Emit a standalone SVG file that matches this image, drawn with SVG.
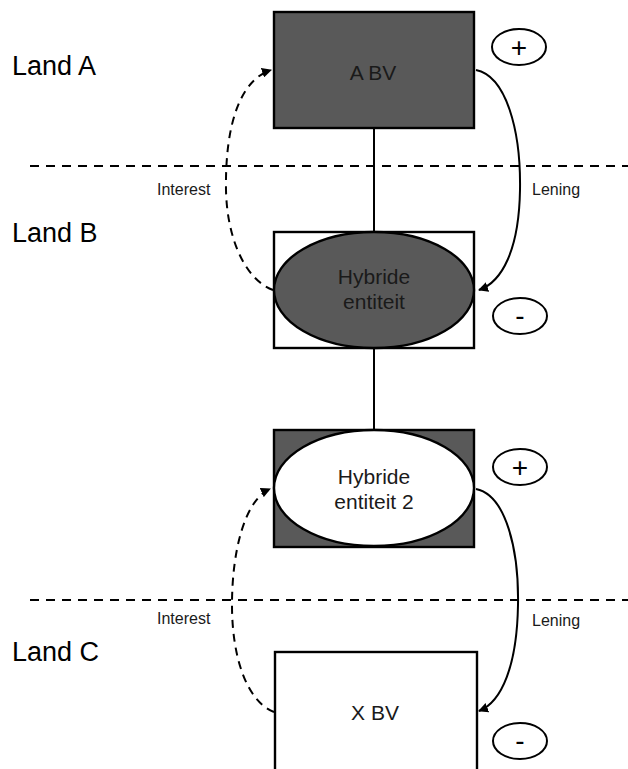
<svg xmlns="http://www.w3.org/2000/svg" width="628" height="769" viewBox="0 0 628 769">
  <style>
    .land { font-family: "Liberation Sans", Arial, sans-serif; font-size: 27px; fill: #000; }
    .node-text { font-family: "Liberation Sans", Arial, sans-serif; font-size: 21px; fill: #1a1a1a; text-anchor: middle; }
    .flow-label { font-family: "Liberation Sans", Arial, sans-serif; font-size: 16px; fill: #1a1a1a; }
    .sign-text { font-family: "Liberation Sans", Arial, sans-serif; font-size: 28px; fill: #000; text-anchor: middle; }
    .sign-minus { stroke: #000; stroke-width: 3; }
    .box { stroke: #000; stroke-width: 2.4; }
    .dark { fill: #595959; }
    .light { fill: #fff; }
    .border { stroke: #000; stroke-width: 1.8; stroke-dasharray: 9 7; fill: none; }
    .link { stroke: #000; stroke-width: 2; fill: none; }
    .flow { stroke: #000; stroke-width: 2; fill: none; }
    .dashed { stroke-dasharray: 8 6; }
    .sign { fill: #fff; stroke: #000; stroke-width: 2; }
  </style>
  <defs>
    <marker id="arrow" viewBox="0 0 10 10" refX="9" refY="5" markerWidth="5" markerHeight="5" orient="auto" markerUnits="strokeWidth">
      <path d="M0,0 L10,5 L0,10 z" fill="#000"/>
    </marker>
  </defs>

  <rect width="628" height="769" fill="#fff"/>

  <!-- country borders -->
  <g id="borders">
    <line class="border" x1="30" y1="166" x2="628" y2="166"/>
    <line class="border" x1="30" y1="600" x2="628" y2="600"/>
  </g>

  <!-- country labels -->
  <g id="land-labels">
    <text class="land" x="12" y="75">Land A</text>
    <text class="land" x="12" y="242">Land B</text>
    <text class="land" x="12" y="661">Land C</text>
  </g>

  <!-- connectors -->
  <g id="connectors">
    <line class="link" x1="374" y1="128" x2="374" y2="232"/>
    <line class="link" x1="374" y1="348" x2="374" y2="430"/>
    <!-- upper loan / interest -->
    <path class="flow" d="M476,70 C506,76 521,130 520,190 C519,250 502,282 479,290" marker-end="url(#arrow)"/>
    <path class="flow dashed" d="M273,290 C246,280 227,240 226,190 C225,125 240,80 271,70" marker-end="url(#arrow)"/>
    <!-- lower loan / interest -->
    <path class="flow" d="M476,489 C506,495 519,550 518,605 C517,665 502,702 479,711" marker-end="url(#arrow)"/>
    <path class="flow dashed" d="M274,712 C248,702 232,660 232,605 C232,550 245,500 270,489" marker-end="url(#arrow)"/>
    <text class="flow-label" x="157" y="195">Interest</text>
    <text class="flow-label" x="532" y="195">Lening</text>
    <text class="flow-label" x="157" y="624">Interest</text>
    <text class="flow-label" x="532" y="626">Lening</text>
  </g>

  <g id="node-a-bv">
    <rect class="box dark" x="274" y="12" width="200" height="116"/>
    <text class="node-text" x="373" y="80">A BV</text>
  </g>

  <g id="node-hybride-entiteit">
    <rect class="box light" x="274" y="232" width="200" height="116"/>
    <ellipse class="box dark" cx="374" cy="290" rx="100" ry="58"/>
    <text class="node-text" x="374" y="284">Hybride</text>
    <text class="node-text" x="374" y="309">entiteit</text>
  </g>

  <g id="node-hybride-entiteit-2">
    <rect class="box dark" x="274" y="430" width="200" height="117"/>
    <ellipse class="box light" cx="374" cy="488" rx="100" ry="58"/>
    <text class="node-text" x="374" y="484">Hybride</text>
    <text class="node-text" x="374" y="509">entiteit 2</text>
  </g>

  <g id="node-x-bv">
    <rect class="box light" x="275" y="652" width="202" height="130"/>
    <text class="node-text" x="375" y="720">X BV</text>
  </g>

  <!-- result signs -->
  <g id="sign-a-plus">
    <ellipse class="sign" cx="519" cy="47" rx="27" ry="18"/>
    <text class="sign-text" x="519" y="57">+</text>
  </g>
  <g id="sign-b-minus">
    <ellipse class="sign" cx="520" cy="316" rx="27" ry="18"/>
    <text class="sign-text" x="520" y="325">-</text>
  </g>
  <g id="sign-b2-plus">
    <ellipse class="sign" cx="520" cy="467" rx="27" ry="18"/>
    <text class="sign-text" x="520" y="477">+</text>
  </g>
  <g id="sign-c-minus">
    <ellipse class="sign" cx="520" cy="741" rx="27" ry="18"/>
    <text class="sign-text" x="520" y="750">-</text>
  </g>
</svg>
